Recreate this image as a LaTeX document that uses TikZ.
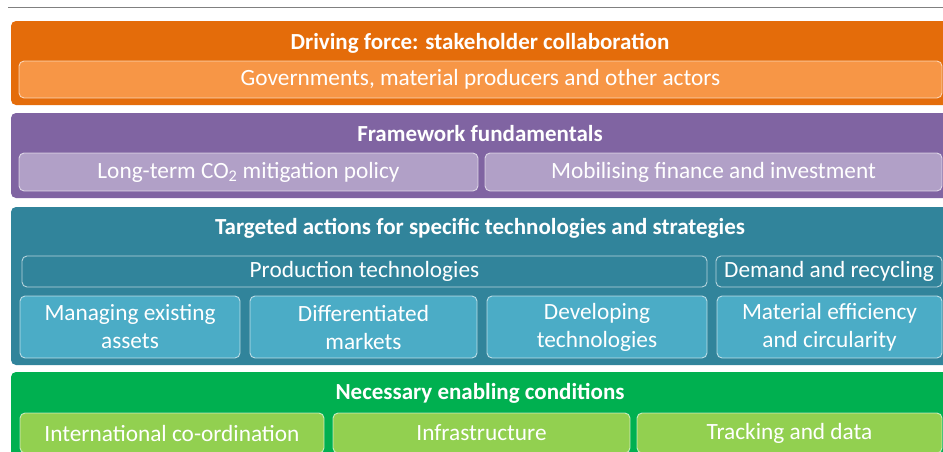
\documentclass[tikz,border=0pt]{standalone}
\usepackage{fontspec}
\setmainfont{Carlito}
\definecolor{orangeband}{HTML}{E46C0A}
\definecolor{orangebox}{HTML}{F79646}
\definecolor{purpleband}{HTML}{8064A2}
\definecolor{purplebox}{HTML}{B1A0C7}
\definecolor{tealband}{HTML}{31849B}
\definecolor{tealbox}{HTML}{4BACC6}
\definecolor{greenband}{HTML}{00B050}
\definecolor{greenbox}{HTML}{92D050}
\definecolor{topline}{HTML}{808080}
\begin{document}
\begin{tikzpicture}[x=1pt,y=-1pt,
  band/.style={rectangle, rounded corners=5pt, draw=none, inner sep=0pt},
  inbox/.style={rectangle, rounded corners=5pt, draw=white, draw opacity=0.65, line width=0.9pt,
     inner sep=0pt, text=white, align=center, font=\fontsize{23.3}{28}\selectfont},
  title/.style={text=white, font=\fontsize{23}{26}\selectfont\bfseries, inner sep=0pt}]
\useasboundingbox (0,0) rectangle (943,451);
\clip (0,0) rectangle (943,451);
\fill[white] (0,0) rectangle (943,451);
\coordinate (la) at (8,7.5);
\coordinate (lb) at (950,7.5);
\draw[topline, line width=1.6pt] (la) -- (lb);
% orange
\node (ob) [band, fill=orangeband, minimum width=950pt, minimum height=84pt] at (486,63) {};
\node (ot) [title] at (480,43) {Driving force: stakeholder collaboration};
\node (o1) [inbox, fill=orangebox, minimum width=923pt, minimum height=37pt] at (480.5,79.5) {Governments, material producers and other actors};
% purple
\node (pb) [band, fill=purpleband, minimum width=950pt, minimum height=85pt] at (486,155.5) {};
\node (pt) [title] at (480,134) {Framework fundamentals};
\node (p1) [inbox, fill=purplebox, minimum width=459pt, minimum height=38pt] at (248.5,172) {Long-term CO\textsubscript{2} mitigation policy};
\node (p2) [inbox, fill=purplebox, minimum width=457pt, minimum height=38pt] at (713.5,172) {Mobilising finance and investment};
% teal
\node (tb) [band, fill=tealband, minimum width=950pt, minimum height=158pt] at (486,286) {};
\node (tt) [title] at (480,228) {Targeted actions for specific technologies and strategies};
\node (t1) [inbox, fill=tealband, minimum width=685pt, minimum height=31pt] at (364.5,271.5) {Production technologies};
\node (t2) [inbox, fill=tealband, minimum width=226pt, minimum height=31pt] at (829,271.5) {Demand and recycling};
\node (t3) [inbox, fill=tealbox, minimum width=220pt, minimum height=62pt] at (130,327) {Managing existing\\assets};
\node (t4) [inbox, fill=tealbox, minimum width=227pt, minimum height=62pt] at (363.5,327) {Differentiated\\markets};
\node (t5) [inbox, fill=tealbox, minimum width=220pt, minimum height=62pt] at (597,327) {Developing\\technologies};
\node (t6) [inbox, fill=tealbox, minimum width=225pt, minimum height=62pt] at (829.5,327) {Material efficiency\\and circularity};
% green
\node (gb) [band, fill=greenband, minimum width=950pt, minimum height=100pt] at (486,422) {};
\node (gt) [title] at (480,393) {Necessary enabling conditions};
\node (g1) [inbox, fill=greenbox, minimum width=304pt, minimum height=40pt] at (172,433) {International co-ordination};
\node (g2) [inbox, fill=greenbox, minimum width=297pt, minimum height=40pt] at (481.5,433) {Infrastructure};
\node (g3) [inbox, fill=greenbox, minimum width=305pt, minimum height=40pt] at (789.5,433) {Tracking and data};
\end{tikzpicture}
\end{document}
